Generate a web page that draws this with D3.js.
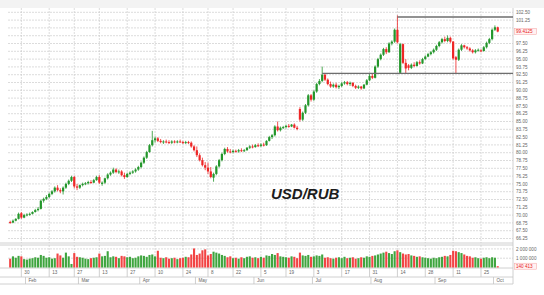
<!DOCTYPE html>
<html>
<head>
<meta charset="utf-8">
<script src="https://cdn.jsdelivr.net/npm/d3@7"></script>
<style>
    body { margin: 0; background: #fff; }
    svg { display: block; font-family: 'Liberation Sans', Arial, sans-serif; }
    .grid { stroke: #cdcdcd; stroke-width: 0.7; stroke-dasharray: 2,1; }
    .frame { stroke: #c4c4c4; stroke-width: 0.8; }
    .lbl { font-size: 4.6px; fill: #666; }
</style>
</head>
<body>
<div id="chart"></div>
<script>
// USD/RUB daily candles, Jan 24 - Oct 3 2023
const holidays = ['2023-02-23', '2023-03-08', '2023-05-01', '2023-05-09', '2023-06-12'];

const open = [
    68.9, 68.8, 69.1, 69.4, 70.3, 69.6, 70.0, 70.1, 70.2, 70.5,
    70.8, 71.0, 72.3, 72.6, 72.9, 73.4, 73.8, 74.4, 74.0, 73.8,
    74.4, 75.0, 75.5, 76.1, 74.6, 74.4, 74.8, 75.0, 75.1, 75.3,
    75.2, 75.6, 76.1, 75.0, 75.2, 75.9, 76.5, 76.8, 77.3, 76.9,
    77.0, 76.4, 76.1, 76.6, 76.8, 77.0, 77.3, 77.7, 78.4, 79.2,
    80.1, 81.2, 82.0, 82.3, 81.9, 81.7, 81.8, 81.7, 81.6, 81.8,
    81.7, 81.8, 81.7, 81.6, 81.7, 81.6, 81.0, 80.4, 79.6, 78.8,
    78.0, 77.6, 77.0, 76.0, 76.6, 77.8, 78.8, 79.8, 80.6, 80.2,
    80.1, 80.3, 80.2, 80.4, 80.3, 80.4, 80.8, 81.0, 80.9, 81.2,
    81.1, 81.3, 81.2, 81.9, 82.5, 82.8, 84.2, 83.6, 84.0, 84.1,
    84.3, 84.2, 84.5, 84.0, 87.0, 85.3, 86.4, 87.6, 89.2, 88.5,
    89.8, 91.0, 91.5, 92.5, 91.7, 91.0, 90.6, 90.9, 90.5, 90.7,
    91.1, 91.3, 91.0, 91.2, 90.7, 90.4, 90.6, 90.3, 90.9, 91.6,
    92.3, 92.0, 93.8, 95.0, 95.7, 96.6, 96.1, 97.5, 97.8, 99.7,
    92.8, 97.4, 94.4, 94.0, 93.6, 94.1, 93.9, 94.5, 94.3, 95.0,
    95.4, 95.8, 96.1, 96.5, 97.1, 97.7, 98.2, 97.9, 98.4, 97.8,
    95.3, 94.9, 96.5, 97.2, 96.9, 96.7, 96.4, 96.1, 96.4, 96.4,
    96.3, 96.9, 97.6, 98.2, 99.7, 100.1
];
const high = [
    69.1, 69.3, 69.5, 70.4, 70.5, 70.2, 70.3, 70.4, 70.6, 71.0,
    71.3, 72.5, 72.8, 73.2, 73.6, 74.0, 74.6, 74.8, 74.3, 74.6,
    75.2, 75.7, 76.3, 76.3, 75.0, 74.9, 75.2, 75.3, 75.5, 75.6,
    75.8, 76.3, 76.4, 75.4, 76.0, 76.7, 77.0, 77.6, 77.5, 77.3,
    77.2, 76.8, 76.8, 77.0, 77.2, 77.5, 77.9, 78.6, 79.4, 80.3,
    81.4, 83.5, 82.6, 82.5, 82.2, 82.0, 82.1, 82.0, 82.0, 82.0,
    82.0, 82.1, 81.9, 81.9, 81.9, 81.8, 81.2, 81.0, 79.9, 79.2,
    78.5, 78.4, 77.7, 76.8, 78.0, 79.0, 80.0, 80.8, 80.9, 80.6,
    80.5, 80.5, 80.6, 80.7, 80.6, 80.9, 81.2, 81.3, 81.4, 81.5,
    81.5, 81.6, 82.0, 82.7, 83.0, 84.4, 85.0, 84.2, 84.3, 84.5,
    84.6, 84.6, 84.7, 84.3, 87.3, 86.6, 87.8, 89.4, 89.4, 90.0,
    91.2, 91.8, 93.8, 92.6, 91.9, 91.4, 91.1, 91.2, 90.9, 91.3,
    91.5, 91.5, 91.4, 91.3, 90.9, 90.8, 90.7, 91.0, 91.8, 92.6,
    92.6, 94.0, 95.2, 95.9, 96.8, 96.9, 97.7, 98.0, 99.9, 102.0,
    97.6, 97.5, 95.0, 94.2, 94.3, 94.5, 94.7, 94.8, 95.2, 95.6,
    96.0, 96.3, 96.7, 97.3, 97.9, 98.4, 98.6, 98.8, 98.6, 97.9,
    95.5, 96.7, 97.4, 97.3, 97.1, 96.9, 96.6, 96.6, 96.7, 96.6,
    97.1, 97.8, 98.4, 99.9, 100.4, 100.2
];
const low = [
    68.6, 68.7, 69.0, 69.3, 69.4, 69.5, 69.8, 69.9, 70.1, 70.4,
    70.6, 70.9, 72.0, 72.4, 72.7, 73.2, 73.6, 73.8, 73.5, 73.3,
    74.2, 74.8, 75.3, 74.3, 74.0, 74.2, 74.6, 74.8, 74.9, 75.0,
    75.1, 75.5, 75.0, 74.7, 75.0, 75.7, 76.3, 76.6, 76.7, 76.6,
    76.2, 75.8, 76.0, 76.4, 76.6, 76.8, 77.1, 77.5, 78.2, 79.0,
    80.0, 81.0, 81.6, 81.7, 81.5, 81.4, 81.5, 81.4, 81.4, 81.5,
    81.5, 81.6, 81.4, 81.4, 81.4, 80.8, 80.2, 79.3, 78.6, 77.8,
    77.2, 76.6, 75.9, 75.35, 76.4, 77.6, 78.6, 79.6, 80.0, 79.9,
    79.9, 80.0, 80.0, 80.1, 80.1, 80.3, 80.6, 80.7, 80.8, 80.9,
    80.9, 81.0, 81.1, 81.8, 82.2, 82.6, 83.4, 83.4, 83.8, 83.9,
    84.0, 84.1, 83.9, 83.6, 85.0, 85.1, 86.2, 87.4, 88.2, 88.3,
    89.6, 90.8, 91.3, 91.5, 90.8, 90.4, 90.4, 90.3, 90.2, 90.5,
    90.9, 90.8, 90.7, 90.5, 90.2, 90.2, 90.1, 90.2, 90.8, 91.5,
    91.8, 91.9, 93.6, 94.8, 95.5, 95.8, 96.0, 97.2, 97.6, 97.5,
    92.7, 94.2, 92.7, 93.2, 93.4, 93.7, 93.8, 94.1, 94.2, 94.9,
    95.3, 95.6, 95.9, 96.3, 96.9, 97.5, 97.7, 97.7, 97.6, 94.9,
    92.7, 94.7, 96.3, 96.7, 96.5, 96.2, 95.9, 95.9, 96.2, 96.1,
    96.2, 96.7, 97.4, 98.0, 99.5, 99.3
];
const close = [
    68.8, 69.1, 69.4, 70.2, 69.6, 70.0, 70.1, 70.2, 70.5, 70.8,
    71.0, 72.3, 72.6, 72.9, 73.4, 73.8, 74.4, 74.0, 73.8, 74.4,
    75.0, 75.5, 76.1, 74.6, 74.4, 74.8, 75.0, 75.1, 75.3, 75.2,
    75.6, 76.1, 75.2, 75.2, 75.9, 76.5, 76.8, 77.3, 76.9, 77.0,
    76.4, 76.1, 76.6, 76.8, 77.0, 77.3, 77.7, 78.4, 79.2, 80.1,
    81.2, 82.0, 82.3, 81.9, 81.7, 81.8, 81.7, 81.6, 81.8, 81.7,
    81.8, 81.7, 81.6, 81.7, 81.6, 81.0, 80.4, 79.6, 78.8, 78.0,
    77.6, 77.0, 76.1, 76.6, 77.8, 78.8, 79.8, 80.6, 80.2, 80.1,
    80.3, 80.2, 80.4, 80.3, 80.4, 80.8, 81.0, 80.9, 81.2, 81.1,
    81.3, 81.2, 81.9, 82.5, 82.8, 84.2, 83.6, 84.0, 84.1, 84.3,
    84.2, 84.5, 84.0, 83.8, 85.3, 86.4, 87.6, 89.2, 88.5, 89.8,
    91.0, 91.5, 92.5, 91.7, 91.0, 90.6, 90.9, 90.5, 90.7, 91.1,
    91.3, 91.0, 91.2, 90.7, 90.4, 90.6, 90.3, 90.9, 91.6, 92.3,
    92.0, 93.8, 95.0, 95.7, 96.6, 96.1, 97.5, 97.8, 99.7, 97.7,
    97.4, 94.4, 93.5, 93.6, 94.1, 93.9, 94.5, 94.3, 95.0, 95.4,
    95.8, 96.1, 96.5, 97.1, 97.7, 98.2, 97.9, 98.4, 97.8, 95.1,
    94.9, 96.5, 97.2, 96.9, 96.7, 96.4, 96.1, 96.4, 96.5, 96.3,
    96.9, 97.6, 98.2, 99.7, 100.1, 99.4125
];
const volume = [
    950, 1200, 1050, 1250, 1200, 900, 850, 950, 1000, 1100,
    1050, 1350, 1250, 1050, 1100, 950, 1000, 1500, 1300, 1050,
    1600, 1200, 380, 1550, 1150, 1100, 1050, 950, 900, 1000,
    1050, 1100, 1500, 1200, 1250, 1750, 1100, 1200, 1150, 1000,
    1250, 1200, 1100, 1150, 1000, 1050, 1200, 1300, 1250, 1150,
    1350, 1400, 1200, 1800, 1050, 1000, 1100, 950, 1000, 1050,
    900, 1000, 1050, 1150, 1100, 1400, 2050, 1350, 1500, 1850,
    1950, 1300, 1450, 1700, 1600, 1500, 1350, 1250, 1100, 1200,
    1000, 1050, 950, 1100, 1000, 1150, 1200, 1050, 1100, 1000,
    1150, 1050, 1300, 1250, 1450, 1350, 1550, 1200, 1150, 1100,
    1050, 1200, 1150, 1000, 1600, 1300, 1250, 1350, 1150, 1200,
    1300, 1250, 1400, 1050, 1100, 1000, 950, 1050, 1100, 1000,
    1150, 1000, 1050, 1100, 950, 1000, 1100, 1050, 1200, 1150,
    1250, 1300, 1400, 1500, 1600, 1700, 1550, 1450, 1750, 1850,
    1650, 1500, 1400, 1450, 1300, 1250, 1150, 1200, 1100, 1050,
    1000, 950, 1050, 1000, 1100, 1150, 1250, 1200, 1350, 1800,
    1750, 1650, 1550, 1400, 1250, 1200, 1050, 1100, 1000, 950,
    1050, 1100, 1000, 1100, 1050, 140.413
]; // thousands

const priceTicks = [66.25, 67.5, 68.75, 70, 71.25, 72.5, 73.75, 75, 76.25, 77.5,
    78.75, 80, 81.25, 82.5, 83.75, 85, 86.25, 87.5, 88.75, 90,
    91.25, 92.5, 93.75, 95, 96.25, 97.5, 98.75, 100, 101.25, 102.5];
const volumeTicks = [1000000, 2000000];
const dayTicks = ['2023-01-30', '2023-02-13', '2023-02-27', '2023-03-13', '2023-03-27', '2023-04-10',
    '2023-04-24', '2023-05-08', '2023-05-22', '2023-06-05', '2023-06-19', '2023-07-03',
    '2023-07-17', '2023-07-31', '2023-08-14', '2023-08-28', '2023-09-11', '2023-09-25'];
const monthNames = ['Feb', 'Mar', 'Apr', 'May', 'Jun', 'Jul', 'Aug', 'Sep', 'Oct'];
const monthStarts = ['2023-02-01', '2023-03-01', '2023-04-03', '2023-05-02', '2023-06-01',
    '2023-07-03', '2023-08-01', '2023-09-01', '2023-10-02'];
const levelStart = ['2023-07-06', '2023-08-14'];
const levelPrice = [92.7, 101.75];
const title = 'USD/RUB';

const fmt = d3.timeFormat('%Y-%m-%d');
const days = d3.timeDay.range(new Date(2023, 0, 24), new Date(2023, 9, 4))
    .filter(d => d.getDay() % 6 !== 0 && !holidays.includes(fmt(d)))
    .map(fmt);

const W = 544, H = 295;
const left = 8, right = 513;
const priceTop = 8, priceBottom = 243;
const volTop = 245, volBottom = 268;
const row1 = 277, row2 = 284;

const x = d3.scaleBand().domain(days).range([8.8, 499.1]);
const cx = d => x(d) + x.bandwidth() / 2;
const y = d3.scaleLinear().domain([66.25, 102.5]).range([238.5, 12.3]);
const yv = d3.scaleLinear().domain([0, 2000000]).range([267.5, 248.9]);

const green = '#23962b', red = '#ee2626';
const volGreen = '#3fa53f', volRed = '#f24444';

const svg = d3.select('#chart').append('svg').attr('width', W).attr('height', H);

svg.append('rect').attr('width', W).attr('height', priceTop).attr('fill', '#f3f3f3');

// horizontal price grid + right labels
const lastPrice = close[close.length - 1];
svg.append('g').selectAll('line').data(priceTicks).join('line')
    .attr('class', 'grid')
    .attr('x1', left).attr('x2', right)
    .attr('y1', d => y(d)).attr('y2', d => y(d));

svg.append('g').selectAll('text')
    .data(priceTicks.filter(d => Math.abs(y(d) - y(lastPrice)) > 5))
    .join('text')
    .attr('class', 'lbl')
    .attr('x', 516).attr('y', d => y(d) + 1.6)
    .text(d3.format('.2f'));

// vertical grid in both panels
dayTicks.forEach(d => {
    svg.append('line').attr('class', 'grid')
        .attr('x1', cx(d)).attr('x2', cx(d)).attr('y1', priceTop).attr('y2', priceBottom);
    svg.append('line').attr('class', 'grid')
        .attr('x1', cx(d)).attr('x2', cx(d)).attr('y1', volTop).attr('y2', volBottom);
});

// volume grid
svg.append('g').selectAll('line').data(volumeTicks).join('line')
    .attr('class', 'grid')
    .attr('x1', left).attr('x2', right)
    .attr('y1', d => yv(d)).attr('y2', d => yv(d));

const spaced = d3.formatLocale({ decimal: '.', thousands: ' ', grouping: [3], currency: ['', ''] }).format(',d');
svg.append('g').selectAll('text').data(volumeTicks).join('text')
    .attr('class', 'lbl')
    .attr('x', 516).attr('y', d => yv(d) + 1.6)
    .text(spaced);

// panel frames
[priceBottom, volTop, volBottom, row1, row2].forEach(v => {
    svg.append('line').attr('class', 'frame')
        .attr('x1', 0).attr('x2', right).attr('y1', v).attr('y2', v);
});
svg.append('line').attr('class', 'frame')
    .attr('x1', right).attr('x2', right).attr('y1', priceTop).attr('y2', row2);

// candles
const candles = svg.append('g');
days.forEach((d, i) => {
    const up = close[i] >= open[i];
    const col = up ? green : red;
    candles.append('line')
        .attr('x1', cx(d)).attr('x2', cx(d))
        .attr('y1', y(high[i])).attr('y2', y(low[i]))
        .attr('stroke', col).attr('stroke-width', 0.8);
    const top = y(Math.max(open[i], close[i]));
    const h = Math.max(1, y(Math.min(open[i], close[i])) - top);
    candles.append('rect')
        .attr('x', cx(d) - 1.1).attr('width', 2.2)
        .attr('y', top).attr('height', h)
        .attr('fill', col);
});

// support / resistance levels
levelStart.forEach((d, i) => {
    svg.append('line')
        .attr('x1', cx(d)).attr('x2', right)
        .attr('y1', y(levelPrice[i])).attr('y2', y(levelPrice[i]))
        .attr('stroke', '#6e6e6e').attr('stroke-width', 1.3);
});

// volume bars
svg.append('g').selectAll('rect').data(days).join('rect')
    .attr('x', d => cx(d) - 1.05).attr('width', 2.1)
    .attr('y', (d, i) => yv(volume[i] * 1000))
    .attr('height', (d, i) => yv(0) - yv(volume[i] * 1000))
    .attr('fill', (d, i) => close[i] >= open[i] ? volGreen : volRed);

// current value tags
function tag(yy, text) {
    svg.append('rect').attr('x', 514.5).attr('y', yy - 3).attr('width', 22).attr('height', 6)
        .attr('fill', '#fff2f2').attr('stroke', '#f5a0a0').attr('stroke-width', 0.5);
    svg.append('text').attr('class', 'lbl').attr('x', 516).attr('y', yy + 1.6)
        .style('fill', '#e82020').text(text);
}
tag(y(lastPrice), '99.4125');
tag(yv(volume[volume.length - 1] * 1000), spaced(Math.round(volume[volume.length - 1] * 1000)));

// day ticks row
dayTicks.forEach(d => {
    svg.append('line').attr('class', 'frame')
        .attr('x1', cx(d)).attr('x2', cx(d)).attr('y1', volBottom).attr('y2', row1);
    svg.append('text').attr('class', 'lbl')
        .attr('x', cx(d) + 3).attr('y', 274.3)
        .text(+d.slice(8));
});

// month row
monthStarts.forEach((d, i) => {
    svg.append('line').attr('class', 'frame')
        .attr('x1', x(d)).attr('x2', x(d)).attr('y1', row1).attr('y2', row2);
    svg.append('text').attr('class', 'lbl')
        .attr('x', x(d) + 3).attr('y', 282)
        .text(monthNames[i]);
});

svg.append('text')
    .attr('x', 271).attr('y', 199)
    .attr('font-size', 15).attr('font-weight', 'bold').attr('font-style', 'italic')
    .attr('fill', '#1c1c1c')
    .text(title);
</script>
</body>
</html>
